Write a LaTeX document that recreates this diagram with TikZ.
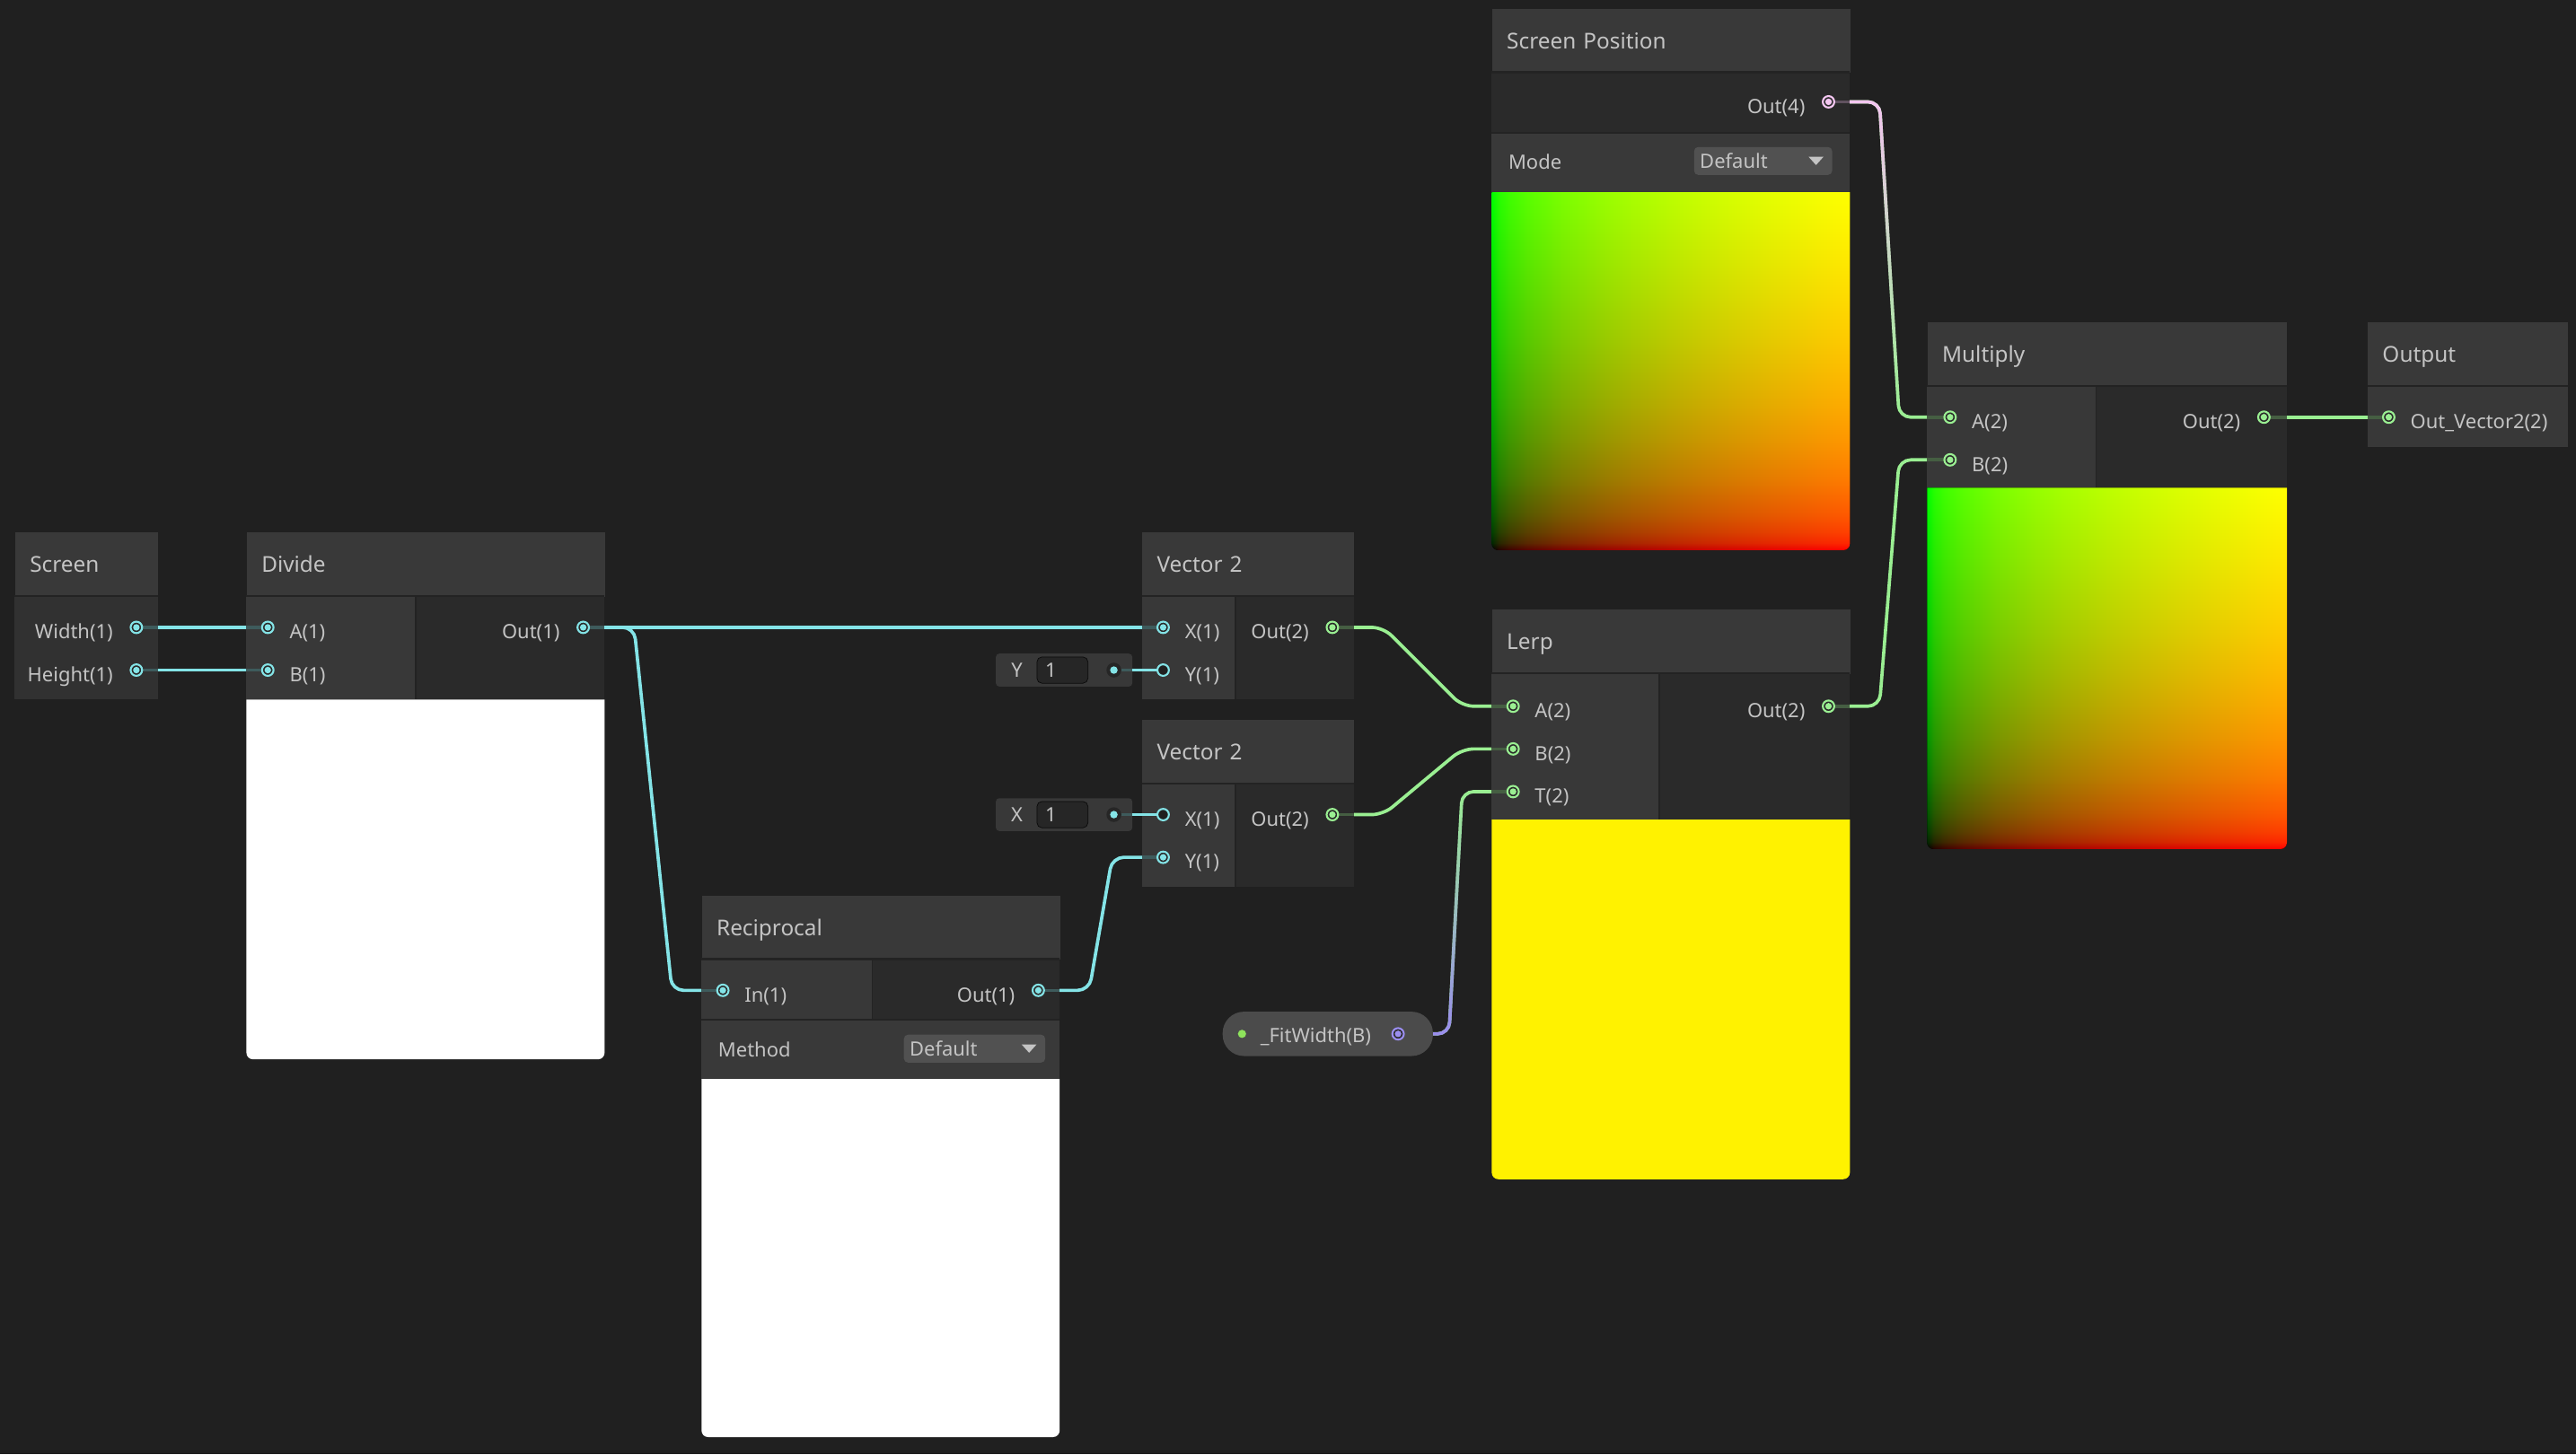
\documentclass[tikz,border=0pt]{standalone}
\usepackage{fontspec}
\setmainfont{Noto Sans}
\usetikzlibrary{positioning,calc,fadings}

\definecolor{canvas}{HTML}{202020}
\definecolor{hdrgrey}{HTML}{393939}
\definecolor{ingrey}{HTML}{383838}
\definecolor{outgrey}{HTML}{2A2A2A}
\definecolor{scrgrey}{HTML}{313131}
\definecolor{sepgrey}{HTML}{232323}
\definecolor{txtgrey}{HTML}{C4C4C4}
\definecolor{dropgrey}{HTML}{515151}
\definecolor{pillgrey}{HTML}{4B4B4B}
\definecolor{fieldgrey}{HTML}{262626}
\definecolor{floatc}{HTML}{84E4E7}
\definecolor{vectwo}{HTML}{9AEF92}
\definecolor{vecfour}{HTML}{F4C6F1}
\definecolor{boolc}{HTML}{9A8DEE}
\definecolor{propgreen}{HTML}{8EE35C}

\tikzfading[name=fade down,top color=transparent!0,bottom color=transparent!100]
\tikzfading[name=fade up,top color=transparent!100,bottom color=transparent!0]

% screen position preview ramps (linear values shown through sRGB)
\pgfdeclarehorizontalshading{redramp}{100bp}{rgb(0bp)=(0,0,0); rgb(25bp)=(0,0,0);
  rgb(26bp)=(0.152,0,0); rgb(27.5bp)=(0.248,0,0); rgb(30bp)=(0.349,0,0); rgb(35bp)=(0.485,0,0);
  rgb(40bp)=(0.584,0,0); rgb(45bp)=(0.665,0,0); rgb(50bp)=(0.735,0,0); rgb(55bp)=(0.798,0,0);
  rgb(60bp)=(0.854,0,0); rgb(65bp)=(0.906,0,0); rgb(70bp)=(0.955,0,0); rgb(75bp)=(1,0,0); rgb(100bp)=(1,0,0)}
\pgfdeclareverticalshading{greenramp}{100bp}{rgb(0bp)=(0,0,0); rgb(25bp)=(0,0,0);
  rgb(26bp)=(0,0.152,0); rgb(27.5bp)=(0,0.248,0); rgb(30bp)=(0,0.349,0); rgb(35bp)=(0,0.485,0);
  rgb(40bp)=(0,0.584,0); rgb(45bp)=(0,0.665,0); rgb(50bp)=(0,0.735,0); rgb(55bp)=(0,0.798,0);
  rgb(60bp)=(0,0.854,0); rgb(65bp)=(0,0.906,0); rgb(70bp)=(0,0.955,0); rgb(75bp)=(0,1,0); rgb(100bp)=(0,1,0)}

\pgfdeclarelayer{back}
\pgfdeclarelayer{wires}
\pgfsetlayers{back,wires,main}

\begin{document}
\begin{tikzpicture}[x=1pt,y=-1pt,
  hdr/.style={fill=hdrgrey,anchor=north west,minimum height=39pt,inner xsep=9pt,inner ysep=0pt,text height=12pt,text depth=2.3pt,align=left,text=txtgrey,font=\fontsize{13.3}{16}\selectfont},
  plab/.style={inner sep=0pt,text=txtgrey,font=\fontsize{12}{14}\selectfont},
  portlab/.style={plab,text height=16pt,text depth=2pt},
  port/.style={circle,draw=#1,line width=1.15pt,fill=outgrey,minimum size=7pt,inner sep=0pt,
    path picture={\fill[#1] (path picture bounding box.center) circle (2pt);}},
  openport/.style={circle,draw=#1,line width=1.15pt,fill=canvas,minimum size=7pt,inner sep=0pt},
  stub/.style={draw=#1!30!canvas,line width=2pt},
  sep/.style={draw=sepgrey,line width=1.2pt},
  wire/.style={draw=#1,line width=2pt},
  bend wire/.style={rounded corners=7pt,to path={-- ++(31pt,0) -- ($(\tikztotarget)+(-31pt,0)$) -- (\tikztotarget)}},
  dropbox/.style={fill=dropgrey,rounded corners=2.5pt,anchor=west,minimum height=17pt,inner xsep=3.5pt,inner ysep=0pt,align=left,text=txtgrey,font=\fontsize{12}{14}\selectfont},
  fieldbox/.style={fill=ingrey,rounded corners=2pt,anchor=west,minimum width=83pt,minimum height=20pt,inner sep=0pt},
  valbox/.style={fill=fieldgrey,draw=black!70!canvas,rounded corners=3pt,anchor=west,minimum height=16pt,text width=21pt,inner xsep=5pt,inner ysep=0pt,align=left,text=txtgrey,font=\fontsize{12}{14}\selectfont},
  fielddot/.style={circle,fill=fieldgrey,minimum size=9pt,inner sep=0pt,
    path picture={\fill[floatc] (path picture bounding box.center) circle (2.3pt);}},
  preview/.style={rounded corners=4pt}
]
\useasboundingbox (0,0) rectangle (1568,885.4);
\begin{pgfonlayer}{back}
\fill[canvas] (0,0) rectangle (1568,885.4);
\end{pgfonlayer}

% Screen
\node[hdr,text width=69pt] (scr) at (9,324) {Screen};
\fill[scrgrey] (9,363) rectangle (96,426);
\draw[sep] (9,363) -- (96,363);
\foreach \y in {382,408} \draw[stub=floatc] (83,\y) -- (96,\y);
\node[port=floatc] (scrW) at (83,382) {};
\node[port=floatc] (scrH) at (83,408) {};
\node[portlab,left=10pt of scrW] (scrWl) {Width(1)};
\node[portlab,left=10pt of scrH] (scrHl) {Height(1)};

% Divide
\node[hdr,text width=200pt] (div) at (150,324) {Divide};
\fill[ingrey] (150,363) rectangle (253,426);
\fill[outgrey] (253,363) rectangle (368,426);
\draw[sep] (150,363) -- (368,363);
\draw[sep,line width=0.8pt] (253,363) -- (253,426);
\fill[white] (150,426) [preview] -- (150,645) -- (368,645) [sharp corners] -- (368,426) -- cycle;
\foreach \y in {382,408} \draw[stub=floatc] (150,\y) -- (163,\y);
\draw[stub=floatc] (355,382) -- (368,382);
\node[port=floatc] (divA) at (163,382) {};
\node[port=floatc] (divB) at (163,408) {};
\node[port=floatc] (divO) at (355,382) {};
\node[portlab,right=9pt of divA] (divAl) {A(1)};
\node[portlab,right=9pt of divB] (divBl) {B(1)};
\node[portlab,left=10pt of divO] (divOl) {Out(1)};

% Reciprocal
\node[hdr,text width=200pt] (rec) at (427,545) {Reciprocal};
\fill[ingrey] (427,584) rectangle (531,621);
\fill[outgrey] (531,584) rectangle (645,621);
\fill[hdrgrey] (427,621) rectangle (645,657);
\draw[sep] (427,584) -- (645,584);
\draw[sep] (427,621) -- (645,621);
\draw[sep,line width=0.8pt] (531,584) -- (531,621);
\fill[white] (427,657) [preview] -- (427,875) -- (645,875) [sharp corners] -- (645,657) -- cycle;
\draw[stub=floatc] (427,603) -- (440,603);
\draw[stub=floatc] (632,603) -- (645,603);
\node[port=floatc] (recI) at (440,603) {};
\node[port=floatc] (recO) at (632,603) {};
\node[portlab,right=9pt of recI] (recIl) {In(1)};
\node[portlab,left=10pt of recO] (recOl) {Out(1)};
\node[plab,anchor=west] (recM) at (437,639) {Method};
\node[dropbox,minimum width=86pt,text width=79pt] (recD) at (550,638.5) {Default};
\fill[txtgrey] ($(recD.east)+(-14.5,-2.5)$) -- ++(9,0) -- ++(-4.5,5) -- cycle;

% Vector 2 (top)
\node[hdr,text width=111pt] (va) at (695,324) {Vector 2};
\fill[ingrey] (695,363) rectangle (752,426);
\fill[outgrey] (752,363) rectangle (824,426);
\draw[sep] (695,363) -- (824,363);
\draw[sep,line width=0.8pt] (752,363) -- (752,426);
\draw[stub=floatc] (695,382) -- (708,382);
\draw[stub=vectwo] (811,382) -- (824,382);
\node[port=floatc] (vaX) at (708,382) {};
\node[openport=floatc] (vaY) at (708,408) {};
\node[port=vectwo] (vaO) at (811,382) {};
\node[portlab,right=9pt of vaX] (vaXl) {X(1)};
\node[portlab,right=9pt of vaY] (vaYl) {Y(1)};
\node[portlab,left=10pt of vaO] (vaOl) {Out(2)};
\node[fieldbox] (yfld) at (606,408) {};
\node[plab] (yfldl) at (619,408) {Y};
\node[valbox] (yval) at (631,408) {1};
\node[fielddot] (ydot) at (678,408) {};
\draw[stub=floatc] (ydot) -- (yfld.east);
\draw[wire=floatc] (yfld.east) -- (vaY);

% Vector 2 (bottom)
\node[hdr,text width=111pt] (vb) at (695,438) {Vector 2};
\fill[ingrey] (695,477) rectangle (752,540);
\fill[outgrey] (752,477) rectangle (824,540);
\draw[sep] (695,477) -- (824,477);
\draw[sep,line width=0.8pt] (752,477) -- (752,540);
\draw[stub=floatc] (695,522) -- (708,522);
\draw[stub=vectwo] (811,496) -- (824,496);
\node[openport=floatc] (vbX) at (708,496) {};
\node[port=floatc] (vbY) at (708,522) {};
\node[port=vectwo] (vbO) at (811,496) {};
\node[portlab,right=9pt of vbX] (vbXl) {X(1)};
\node[portlab,right=9pt of vbY] (vbYl) {Y(1)};
\node[portlab,left=10pt of vbO] (vbOl) {Out(2)};
\node[fieldbox] (xfld) at (606,496) {};
\node[plab] (xfldl) at (619,496) {X};
\node[valbox] (xval) at (631,496) {1};
\node[fielddot] (xdot) at (678,496) {};
\draw[stub=floatc] (xdot) -- (xfld.east);
\draw[wire=floatc] (xfld.east) -- (vbX);

% Screen Position
\node[hdr,text width=200pt] (sp) at (908,5) {Screen Position};
\fill[outgrey] (908,44) rectangle (1126,81);
\fill[hdrgrey] (908,81) rectangle (1126,117);
\draw[sep] (908,44) -- (1126,44);
\draw[sep] (908,81) -- (1126,81);
\begin{scope}[blend group=screen]
\shade[shading=redramp] (908,117) [preview] -- (908,335) -- (1126,335) [sharp corners] -- (1126,117) -- cycle;
\shade[shading=greenramp] (908,117) [preview] -- (908,335) -- (1126,335) [sharp corners] -- (1126,117) -- cycle;
\end{scope}
\draw[stub=vecfour] (1113,62) -- (1126,62);
\node[port=vecfour] (spO) at (1113,62) {};
\node[portlab,left=10pt of spO] (spOl) {Out(4)};
\node[plab,anchor=west] (spM) at (918,98.5) {Mode};
\node[dropbox,minimum width=84pt,text width=77pt] (spD) at (1031,98) {Default};
\fill[txtgrey] ($(spD.east)+(-14.5,-2.5)$) -- ++(9,0) -- ++(-4.5,5) -- cycle;

% Lerp
\node[hdr,text width=200pt] (lerp) at (908,371) {Lerp};
\fill[ingrey] (908,410) rectangle (1010,499);
\fill[outgrey] (1010,410) rectangle (1126,499);
\draw[sep] (908,410) -- (1126,410);
\draw[sep,line width=0.8pt] (1010,410) -- (1010,499);
\fill[yellow] (908,499) [preview] -- (908,718) -- (1126,718) [sharp corners] -- (1126,499) -- cycle;
\foreach \y in {430,456,482} \draw[stub=vectwo] (908,\y) -- (921,\y);
\draw[stub=vectwo] (1113,430) -- (1126,430);
\node[port=vectwo] (lerpA) at (921,430) {};
\node[port=vectwo] (lerpB) at (921,456) {};
\node[port=vectwo] (lerpT) at (921,482) {};
\node[port=vectwo] (lerpO) at (1113,430) {};
\node[portlab,right=9pt of lerpA] (lerpAl) {A(2)};
\node[portlab,right=9pt of lerpB] (lerpBl) {B(2)};
\node[portlab,right=9pt of lerpT] (lerpTl) {T(2)};
\node[portlab,left=10pt of lerpO] (lerpOl) {Out(2)};

% _FitWidth property
\node[fill=pillgrey,rounded corners=13pt,anchor=west,minimum width=128pt,minimum height=27pt,inner sep=0pt] (fitw) at (744,629.5) {};
\node[circle,fill=propgreen,minimum size=5pt,inner sep=0pt] (fitD) at (756,629.5) {};
\node[plab,anchor=west] (fitL) at (767,631) {\_FitWidth(B)};
\node[port=boolc] (fitP) at (851,629.5) {};

% Multiply
\node[hdr,text width=201pt] (mul) at (1173,196) {Multiply};
\fill[ingrey] (1173,235) rectangle (1276,297);
\fill[outgrey] (1276,235) rectangle (1392,297);
\draw[sep] (1173,235) -- (1392,235);
\draw[sep,line width=0.8pt] (1276,235) -- (1276,297);
\begin{scope}[blend group=screen]
\shade[shading=redramp] (1173,297) [preview] -- (1173,517) -- (1392,517) [sharp corners] -- (1392,297) -- cycle;
\shade[shading=greenramp] (1173,297) [preview] -- (1173,517) -- (1392,517) [sharp corners] -- (1392,297) -- cycle;
\end{scope}
\foreach \y in {254,280} \draw[stub=vectwo] (1173,\y) -- (1187,\y);
\draw[stub=vectwo] (1378,254) -- (1392,254);
\node[port=vectwo] (mulA) at (1187,254) {};
\node[port=vectwo] (mulB) at (1187,280) {};
\node[port=vectwo] (mulO) at (1378,254) {};
\node[portlab,right=9pt of mulA] (mulAl) {A(2)};
\node[portlab,right=9pt of mulB] (mulBl) {B(2)};
\node[portlab,left=10pt of mulO] (mulOl) {Out(2)};

% Output
\node[hdr,text width=104pt] (outn) at (1441,196) {Output};
\fill[ingrey] (1441,235) rectangle (1563,272);
\draw[sep] (1441,235) -- (1563,235);
\draw[stub=vectwo] (1441,254) -- (1454,254);
\node[port=vectwo] (outI) at (1454,254) {};
\node[portlab,right=9pt of outI] (outIl) {Out\_Vector2(2)};

% connections
\begin{pgfonlayer}{wires}
\draw[wire=floatc] (scrW) -- (divA);
\draw[wire=floatc] (scrH) -- (divB);
\draw[wire=floatc] (divO) -- (vaX);
\draw[wire=floatc] (divO) to[bend wire] (recI);
\draw[wire=floatc] (recO) to[bend wire] (vbY);
\draw[wire=vectwo] (vaO) to[bend wire] (lerpA);
\draw[wire=vectwo] (vbO) to[bend wire] (lerpB);
\draw[wire=vectwo] (fitP) to[bend wire] (lerpT);
\draw[wire=boolc,path fading=fade up] (fitP) to[bend wire] (lerpT);
\draw[wire=vectwo] (spO) to[bend wire] (mulA);
\draw[wire=vecfour,path fading=fade down] (spO) to[bend wire] (mulA);
\draw[wire=vectwo] (lerpO) to[bend wire] (mulB);
\draw[wire=vectwo] (mulO) -- (outI);
\end{pgfonlayer}
\end{tikzpicture}
\end{document}
